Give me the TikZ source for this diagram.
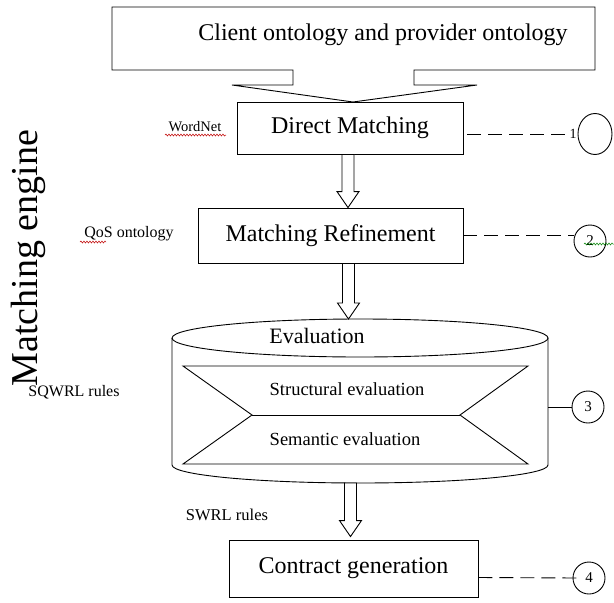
\documentclass[tikz,border=0pt]{standalone}
\usepackage{fontspec}
\setmainfont{Liberation Serif}
\usetikzlibrary{shapes.geometric,calc,decorations.pathmorphing}
\newcommand\hollowarrow[2]{%
  \draw[hollow] let \p1=#1, \p2=#2 in
    (\x1-6pt,\y1) -- (\x1-6pt,\y2+16pt) -- (\x1-11pt,\y2+16pt) -- (\x1,\y2)
    -- (\x1+11pt,\y2+16pt) -- (\x1+6pt,\y2+16pt) -- (\x1+6pt,\y1) -- cycle;}
\begin{document}
\begin{tikzpicture}[x=1pt,y=-1pt,
  lw/.style={line width=0.9pt},
  box/.style={draw, lw, rectangle, inner sep=0pt, font=\fontsize{24}{28}\selectfont},
  lbl/.style={inner sep=0pt, font=\fontsize{16}{19}\selectfont},
  numc/.style={draw, lw, circle, minimum size=32pt, inner sep=0pt, font=\fontsize{15}{18}\selectfont},
  dashline/.style={lw, dash pattern=on 14pt off 7pt},
  hollow/.style={draw, lw, fill=white},
  wavy/.style={decorate, decoration={snake, amplitude=1pt, segment length=3pt}, line width=0.5pt}
]
\useasboundingbox (0,0) rectangle (614,603);

% top callout
\draw[lw] (112,7) -- (595,7) -- (595,70) -- (414,70) -- (414,85) -- (477,85)
  -- (353,102) -- (232,85) -- (293,85) -- (293,70) -- (112,70) -- cycle;
\node[inner sep=0pt, font=\fontsize{24}{28}\selectfont] (src) at (383,35) {Client ontology and provider ontology};

% boxes
\node[box, minimum width=226pt, minimum height=52pt] (dm) at (350,128) {Direct Matching};
\node[box, minimum width=265pt, minimum height=55pt] (mr) at (330.5,235.5) {Matching Refinement};
\node[box, minimum width=249pt, minimum height=57pt] (cg) at (353.5,568.5) {Contract generation};

% cylinder
\coordinate (cyltop) at (360,319);
\coordinate (cylbot) at (360,483);
\draw[lw] (172,338) -- (172,465) arc[start angle=180, end angle=0, x radius=188, y radius=18] -- (548,338);
\draw[lw] (360,338) ellipse [x radius=188, y radius=19];
\node[inner sep=0pt, font=\fontsize{22}{26}\selectfont] (ev) at (317,336) {Evaluation};
\draw[lw] (183,366) -- (528,366) -- (460,415) -- (528,464) -- (183,464) -- (252,415) -- cycle;
\draw[lw] (252,415) -- (460,415);
\node[inner sep=0pt, font=\fontsize{18.5}{22}\selectfont] (se) at (347,389) {Structural evaluation};
\node[inner sep=0pt, font=\fontsize{18.5}{22}\selectfont] (sm) at (345,439) {Semantic evaluation};
\coordinate (cylright) at (548,407);

% hollow arrows
\coordinate (x1) at (348,0);
\coordinate (x2) at (348.5,0);
\coordinate (x3) at (350.5,0);
\hollowarrow{(x1 |- dm.south)}{(x1 |- mr.north)}
\hollowarrow{(x2 |- mr.south)}{(x2 |- cyltop)}
\hollowarrow{(x3 |- cylbot)}{($(x3 |- cg.north)+(0,-3)$)}

% numbered circles
\node[inner sep=0pt, font=\fontsize{14}{16}\selectfont] (n1) at (573,134) {1};
\node[draw, lw, ellipse, minimum width=34pt, minimum height=41pt, inner sep=0pt] (c1) at (595,134) {};
\node[numc] (c2) at (590,241) {2};
\node[numc] (c3) at (588,407) {3};
\node[numc] (c4) at (589,578) {4};

\draw[dashline] ($(dm.east)+(4,6)$) -- (n1.west);
\draw[dashline] (mr.east) -- (mr.east -| c2.west);
\draw[lw] (cylright) -- (c3.west);
\draw[dashline] ($(cg.east)+(0,9)$) -- ($(c4.west)+(4,0)$);

% side labels
\node[rotate=90, inner sep=0pt, font=\fontsize{38}{42}\selectfont] (me) at (28,258) {Matching engine};
\node[inner sep=0pt, font=\fontsize{14.5}{17}\selectfont] (wn) at (195,127) {WordNet};
\node[lbl] (qos) at (129,234) {QoS ontology};
\node[lbl] (sq) at (74,392) {SQWRL rules};
\node[lbl, font=\fontsize{16.5}{19}\selectfont] (sw) at (227,515) {SWRL rules};

% spelling squiggles
\draw[red!75!black, wavy] (165,135) -- (226,135);
\draw[red!75!black, wavy] (80,242) -- (106,242);
\draw[green!50!black, wavy] (584,244) -- (614,244);
\end{tikzpicture}
\end{document}
